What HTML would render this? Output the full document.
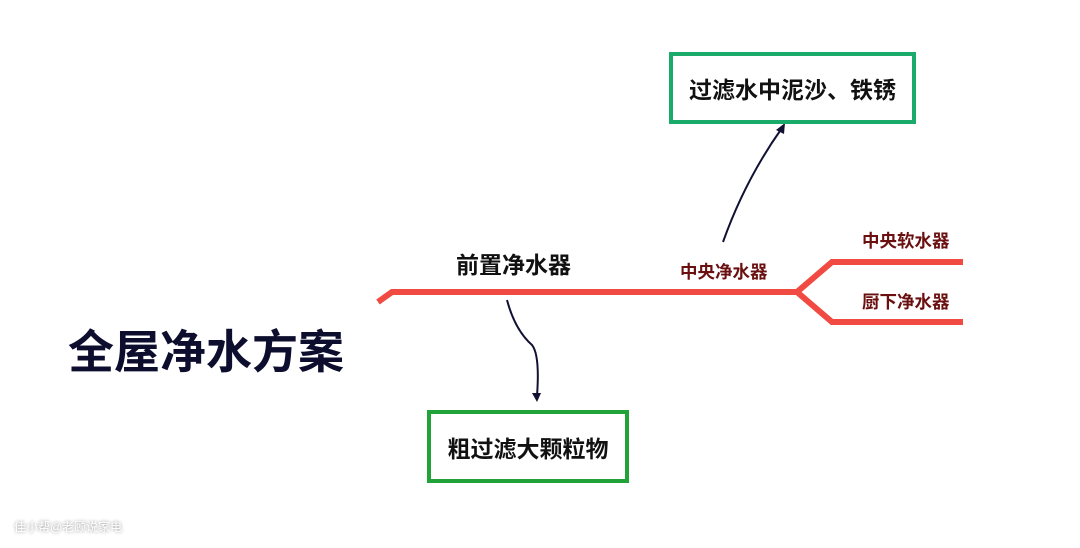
<!DOCTYPE html>
<html><head><meta charset="utf-8"><style>
body{margin:0;width:1080px;height:548px;background:#fff;position:relative;overflow:hidden;font-family:"Liberation Sans","Noto Sans CJK SC",sans-serif;font-weight:bold}
.t{position:absolute;white-space:nowrap}
.box{position:absolute;box-sizing:border-box;display:flex;align-items:center;justify-content:center;font-size:23px;color:#111}
</style></head><body>
<svg width="1080" height="548" style="position:absolute;left:0;top:0">
<path d="M378 302 L392 292 L797 292 L832 262 L963 262 M797 292 L832 322 L963 322" stroke="#f04a42" stroke-width="6" fill="none"/>
<path d="M723 242 Q745 180 782 128" stroke="#111133" stroke-width="2" fill="none"/>
<path d="M776 130 L785 123 L784 134 Z" fill="#111133"/>
<path d="M507 300 Q515 330 532 345 Q540 355 537 396" stroke="#111133" stroke-width="2" fill="none"/>
<path d="M532 393 L537 402 L541 393 Z" fill="#111133"/>
</svg>
<div class="t" style="left:456px;top:246px;font-size:23px;color:#111">前置净水器</div>
<div class="t" style="left:680px;top:259px;font-size:17.5px;color:#6b1010">中央净水器</div>
<div class="t" style="left:862px;top:228px;font-size:17.5px;color:#6b1010">中央软水器</div>
<div class="t" style="left:862px;top:289px;font-size:17.5px;color:#6b1010">厨下净水器</div>
<div class="t" style="left:68px;top:316px;font-size:46px;color:#0d0d2e">全屋净水方案</div>
<div class="box" style="left:669px;top:52px;width:247px;height:72px;border:4px solid #1aab6a">过滤水中泥沙、铁锈</div>
<div class="box" style="left:427px;top:410px;width:202px;height:73px;border:4px solid #22a33a">粗过滤大颗粒物</div>
<div class="t" style="left:14px;top:518px;font-size:12px;color:#fff;font-weight:normal;text-shadow:0 0 3px #888">佳小帮@老顾说家电</div>
</body></html>
